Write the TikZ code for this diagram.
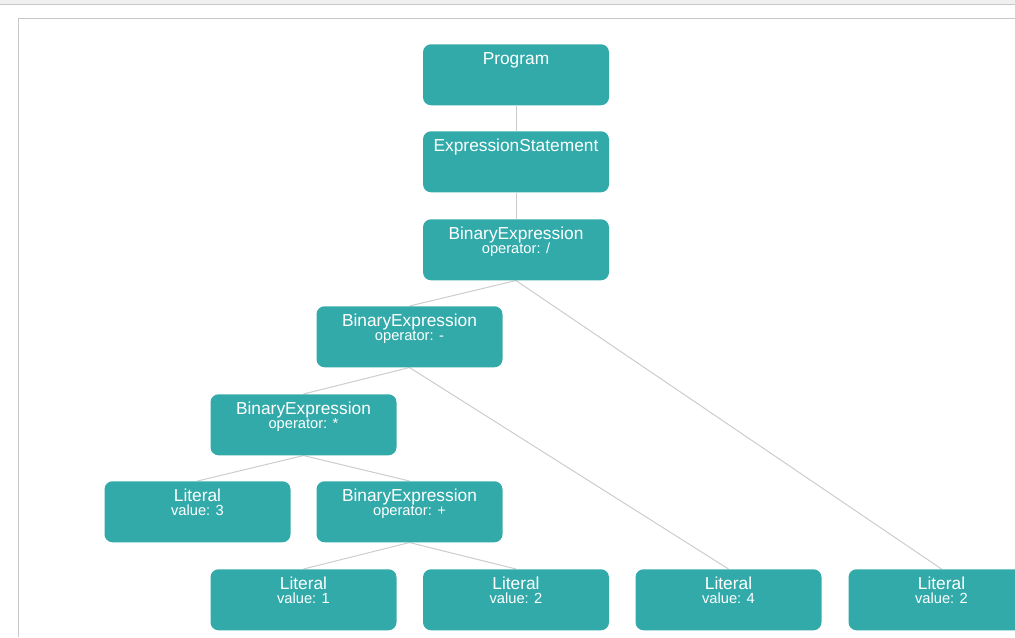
\documentclass[tikz,border=0pt]{standalone}
\usepackage{fontspec}
\setmainfont{Liberation Sans}
\usetikzlibrary{backgrounds}
\definecolor{nodeteal}{HTML}{33AAAA}
\definecolor{edgegray}{HTML}{CCCCCC}
\definecolor{framegray}{HTML}{C8C8C8}
\definecolor{barbg}{HTML}{F0F0F0}
\begin{document}
\begin{tikzpicture}[x=0.75pt,y=-0.75pt,
  astbox/.style={rectangle, rounded corners=6pt, fill=nodeteal, draw=none,
    minimum width=139.5pt, minimum height=45.75pt, inner sep=0pt},
  asttitle/.style={anchor=base, inner sep=0pt, text=white,
    font=\fontsize{13}{15}\selectfont},
  astsub/.style={anchor=base, inner sep=0pt, text=white,
    font=\fontsize{11}{13}\selectfont},
  edge/.style={draw=edgegray, line width=0.75pt}]
\useasboundingbox (0,0) rectangle (1015,637);
% window chrome and panel frame
\fill[barbg] (0,0) rectangle (1015,4);
\draw[framegray, line width=0.75pt] (0,4.5) -- (1015,4.5);
\draw[framegray, line width=0.9pt] (18.5,637) -- (18.5,18.5) -- (1015,18.5);

% tree nodes
\node[astbox, anchor=north] (prog) at (516,44) {};
\node[asttitle] at ([yshift=-15.4pt]prog.north) {Program};

\node[astbox, anchor=north] (stmt) at (516,131) {};
\node[asttitle] at ([yshift=-15.4pt]stmt.north) {ExpressionStatement};

\node[astbox, anchor=north] (div) at (516,219) {};
\node[asttitle] at ([yshift=-15.4pt]div.north) {BinaryExpression};
\node[astsub] at ([yshift=-26.2pt]div.north) {operator: /};

\node[astbox, anchor=north] (sub) at (409.5,306) {};
\node[asttitle] at ([yshift=-15.4pt]sub.north) {BinaryExpression};
\node[astsub] at ([yshift=-26.2pt]sub.north) {operator: -};

\node[astbox, anchor=north] (mul) at (303.5,394) {};
\node[asttitle] at ([yshift=-15.4pt]mul.north) {BinaryExpression};
\node[astsub] at ([yshift=-26.2pt]mul.north) {operator: *};

\node[astbox, anchor=north] (litthree) at (197.5,481) {};
\node[asttitle] at ([yshift=-15.4pt]litthree.north) {Literal};
\node[astsub] at ([yshift=-26.2pt]litthree.north) {value: 3};

\node[astbox, anchor=north] (add) at (409.5,481) {};
\node[asttitle] at ([yshift=-15.4pt]add.north) {BinaryExpression};
\node[astsub] at ([yshift=-26.2pt]add.north) {operator: +};

\node[astbox, anchor=north] (litone) at (303.5,569) {};
\node[asttitle] at ([yshift=-15.4pt]litone.north) {Literal};
\node[astsub] at ([yshift=-26.2pt]litone.north) {value: 1};

\node[astbox, anchor=north] (littwoa) at (516,569) {};
\node[asttitle] at ([yshift=-15.4pt]littwoa.north) {Literal};
\node[astsub] at ([yshift=-26.2pt]littwoa.north) {value: 2};

\node[astbox, anchor=north] (litfour) at (728.5,569) {};
\node[asttitle] at ([yshift=-15.4pt]litfour.north) {Literal};
\node[astsub] at ([yshift=-26.2pt]litfour.north) {value: 4};

\node[astbox, anchor=north] (littwob) at (941.5,569) {};
\node[asttitle] at ([yshift=-15.4pt]littwob.north) {Literal};
\node[astsub] at ([yshift=-26.2pt]littwob.north) {value: 2};

% parent-child links behind the boxes
\begin{pgfonlayer}{background}
\draw[edge] (prog.south) -- (stmt.north);
\draw[edge] (stmt.south) -- (div.north);
\draw[edge] (div.south) -- (sub.north);
\draw[edge] (div.south) -- (littwob.north);
\draw[edge] (sub.south) -- (mul.north);
\draw[edge] (sub.south) -- (litfour.north);
\draw[edge] (mul.south) -- (litthree.north);
\draw[edge] (mul.south) -- (add.north);
\draw[edge] (add.south) -- (litone.north);
\draw[edge] (add.south) -- (littwoa.north);
\end{pgfonlayer}
\end{tikzpicture}
\end{document}
